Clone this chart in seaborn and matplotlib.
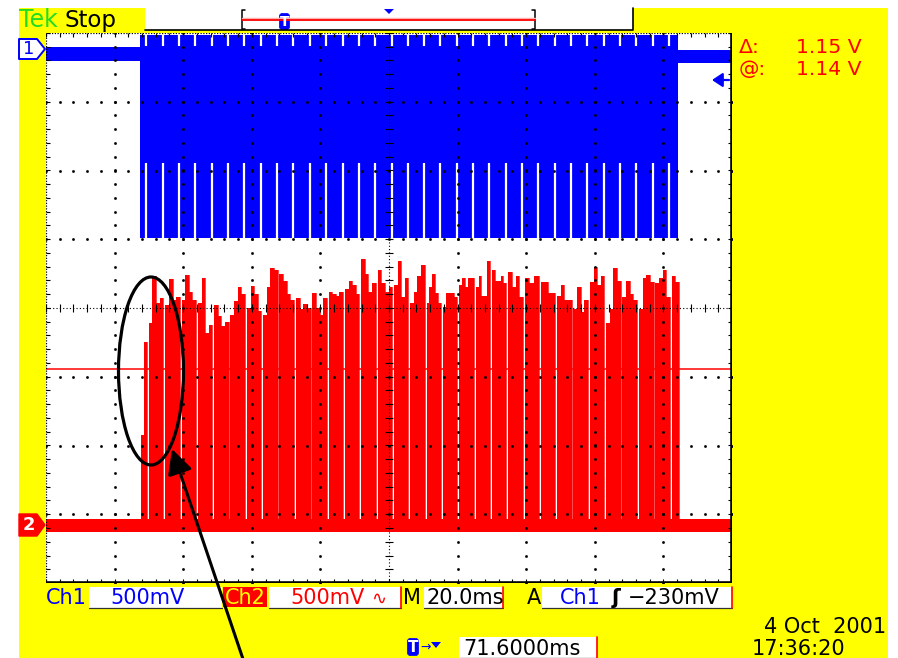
import numpy as np
import pandas as pd
import matplotlib
matplotlib.use("Agg")
import matplotlib.pyplot as plt
import seaborn as sns
from matplotlib.patches import Rectangle, Ellipse, Polygon, FancyBboxPatch

ms_per_div = 20.0            # "M 20.0ms"
volts_per_div = 0.5          # "500mV" both channels
x_range_ms = [0.0, 200.0]
y_range_v = [-2.0, 2.0]

ch1_start_ms = 27.4
ch1_end_ms = 184.3
ch1_idle_pre = [1.80, 1.90]
ch1_idle_post = [1.78, 1.875]
ch1_burst = [0.51, 1.985]
ch1_gap_low_top = 1.055
ch1_notch_bottom = 1.905
ch1_lead_ms = 0.45

ch2_start_ms = 27.7
ch2_end_ms = 184.6
ch2_base = [-1.63, -1.535]
ch2_cursor_v = -0.445
gap_width_ms = 0.55

pulse_gap_ms = [29.7, 34.5, 39.3, 44.0, 48.8, 53.5, 58.3, 63.1, 67.8, 72.6,
                77.4, 82.1, 86.9, 91.6, 96.4, 101.2, 105.9, 110.7, 115.4, 120.2,
                125.0, 129.7, 134.5, 139.3, 144.0, 148.8, 153.5, 158.3, 163.1, 167.8,
                172.6, 177.4, 182.1]

ch2_tops_v = [
    [-0.92, -0.25],
    [-0.11, 0.23, 0.04, 0.07],
    [0.02, 0.21, 0.06, 0.08],
    [0.06, 0.24, 0.12, 0.06],
    [0.04, 0.22, -0.18, -0.12],
    [0.02, -0.06, -0.13, -0.10],
    [-0.05, 0.05, 0.15, 0.10],
    [0.00, 0.16, 0.10, -0.02],
    [-0.05, 0.15, 0.29, 0.28],
    [0.25, 0.20, 0.10, 0.06],
    [0.07, -0.01, 0.03, 0.00],
    [0.11, 0.00, -0.05, 0.07],
    [0.12, 0.10, 0.09, 0.12],
    [0.14, 0.20, 0.17, 0.10],
    [0.36, 0.25, 0.12, 0.18],
    [0.28, 0.18, 0.12, 0.15],
    [0.17, 0.34, 0.08, 0.22],
    [0.04, 0.12, 0.23, 0.31],
    [0.04, 0.15, 0.25, 0.11, 0.04],
    [0.01, 0.11, 0.11, 0.08],
    [0.17, 0.22, 0.15, 0.22, 0.22],
    [0.15, 0.23, 0.09, 0.09, 0.34],
    [0.28, 0.20, 0.20, 0.23, 0.18],
    [0.26, 0.15, 0.23, 0.08],
    [0.22, 0.18, 0.23],
    [0.19, 0.19, 0.11, 0.11],
    [0.09, 0.17, 0.06, 0.06],
    [-0.01, 0.15, -0.03, 0.06],
    [0.19, 0.30, 0.17, 0.23],
    [-0.11, -0.01, 0.29, 0.20],
    [0.08, 0.20, 0.10, 0.06],
    [-0.01, 0.22, 0.24, 0.19],
    [0.18, 0.22, 0.28, 0.08],
    [0.23, 0.19],
]

# ---------------- styling ----------------
W, H = 898, 658
YELLOW = "#FFFF00"
BLUE = "#0000FF"
RED = "#FF0000"
GREEN = "#22DD22"

sns.set_theme(style="white")
plt.rcParams["font.family"] = ["DejaVu Sans"]

fig = plt.figure(figsize=(W / 100, H / 100), dpi=100, facecolor="white")

bg = fig.add_axes([0, 0, 1, 1], zorder=0)
bg.set_xlim(0, W); bg.set_ylim(H, 0); bg.axis("off")
bg.add_patch(Rectangle((19, 8), 869, 650, color=YELLOW, lw=0))

ax = fig.add_axes([46 / W, 1 - 583 / H, 686 / W, 550 / H], zorder=1)
ax.set_xlim(*x_range_ms); ax.set_ylim(*y_range_v)
ax.set_facecolor("white")
ax.set_xticks([]); ax.set_yticks([])
for s in ax.spines.values():
    s.set_visible(False)

# ---- channel 1 (blue) ----
ax.fill_between([x_range_ms[0], ch1_start_ms], ch1_idle_pre[0], ch1_idle_pre[1], color=BLUE, lw=0, zorder=2)
ax.fill_between([ch1_start_ms, ch1_end_ms], ch1_burst[0], ch1_burst[1], color=BLUE, lw=0, zorder=2)
ax.fill_between([ch1_end_ms, x_range_ms[1]], ch1_idle_post[0], ch1_idle_post[1], color=BLUE, lw=0, zorder=2)
ch1_gaps = [g - ch1_lead_ms for g in pulse_gap_ms]
ax.vlines(ch1_gaps, ch1_burst[0] - 0.02, ch1_gap_low_top, color="white", lw=1.6, zorder=3)
ax.vlines(ch1_gaps, ch1_notch_bottom, ch1_burst[1], color="white", lw=1.6, zorder=3)

# ---- channel 2 (red): one continuous step envelope ----
edges = [ch2_start_ms] + pulse_gap_ms + [ch2_end_ms]
ts, vs = [x_range_ms[0]], [ch2_base[1]]
for i, tops in enumerate(ch2_tops_v):
    left = edges[i] + (gap_width_ms / 2 if i > 0 else 0)
    right = edges[i + 1] - (gap_width_ms / 2 if i < len(pulse_gap_ms) else 0)
    w = (right - left) / len(tops)
    for j, t in enumerate(tops):
        ts.append(left + j * w); vs.append(t)
    ts.append(right); vs.append(ch2_base[1])
ts.append(x_range_ms[1]); vs.append(ch2_base[1])
env = pd.DataFrame({"t": ts, "v": vs})
ax.fill_between(env.t.to_numpy(), ch2_base[0], env.v.to_numpy(), step="post",
                color=RED, lw=0, zorder=2)
sns.lineplot(data=env, x="t", y="v", estimator=None, sort=False, drawstyle="steps-post",
             color=RED, lw=0.5, ax=ax, zorder=2, legend=False)
ax.set_xlabel(""); ax.set_ylabel("")
ax.axhline(ch2_cursor_v, color=RED, lw=1.1, zorder=4)

# ---- graticule ----
dot = dict(color="black", marker="s", ms=0.9, ls="none", zorder=5)
minor_y = np.arange(y_range_v[0], y_range_v[1] + 1e-9, volts_per_div / 5)
minor_x = np.arange(x_range_ms[0], x_range_ms[1] + 1e-9, ms_per_div / 5)
cx = (x_range_ms[0] + x_range_ms[1]) / 2
for x in np.arange(ms_per_div, x_range_ms[1], ms_per_div):
    if abs(x - cx) > 1e-6:
        ax.plot(np.full_like(minor_y, x), minor_y, **dot)
for y in np.arange(y_range_v[0] + volts_per_div, y_range_v[1] - 1e-9, volts_per_div):
    if abs(y) > 1e-6:
        ax.plot(minor_x, np.full_like(minor_x, y), **dot)
dx = 1.2   # ms, ~4 px
dy = 0.03  # V, ~4 px
ax.plot([cx, cx], y_range_v, color="black", lw=0.8, ls=(0, (1, 2)), zorder=5)
ax.plot(x_range_ms, [0, 0], color="black", lw=0.8, ls=(0, (1, 2)), zorder=5)
ax.hlines(minor_y, cx - dx, cx + dx, color="black", lw=0.8, zorder=5)
ax.vlines(minor_x, -dy, dy, color="black", lw=0.8, zorder=5)
# frame
ax.plot(x_range_ms, [y_range_v[1]] * 2, color="black", lw=0.9, ls=(0, (1, 1.2)), zorder=6)
ax.plot([x_range_ms[0]] * 2, y_range_v, color="black", lw=0.9, ls=(0, (1, 1.2)), zorder=6)
ax.vlines(minor_x, y_range_v[1] - dy, y_range_v[1], color="black", lw=0.8, zorder=6)
ax.vlines(minor_x, y_range_v[0], y_range_v[0] + dy, color="black", lw=0.8, zorder=6)
ax.hlines(minor_y, x_range_ms[0], x_range_ms[0] + dx, color="black", lw=0.8, zorder=6)
ax.hlines(minor_y, x_range_ms[1] - dx, x_range_ms[1], color="black", lw=0.8, zorder=6)
ax.plot(x_range_ms, [y_range_v[0]] * 2, color="black", lw=2.6, zorder=7, solid_capstyle="butt")
ax.plot([x_range_ms[1]] * 2, y_range_v, color="black", lw=2.6, zorder=7, solid_capstyle="butt")

# ---------------- overlay: scope annotations ----------------
ov = fig.add_axes([0, 0, 1, 1], zorder=3)
ov.set_xlim(0, W); ov.set_ylim(H, 0); ov.axis("off")

def txt(x, y, s, color="black", size=15, ha="left", **kw):
    ov.text(x, y, s, color=color, fontsize=size, ha=ha, va="baseline", **kw)

def box(x0, y0, x1, y1, face="white", red_edge=False):
    ov.add_patch(Rectangle((x0, y0), x1 - x0, y1 - y0, facecolor=face, lw=0))
    ov.plot([x0, x1], [y1, y1], color="#333333", lw=0.9)
    if red_edge:
        ov.plot([x1, x1], [y0, y1], color=RED, lw=1.2)

# top bar
txt(19, 27, "Tek", color=GREEN, size=17)
txt(65, 27, "Stop", size=16.5)
ov.add_patch(Rectangle((145, 8), 488, 22, facecolor="white", lw=0))
ov.plot([145, 633, 633], [30, 30, 8], color="black", lw=1.2)
ov.plot([245, 242, 242, 245], [10, 10, 29, 29], color="black", lw=1.1)
ov.plot([532, 535, 535, 532], [10, 10, 29, 29], color="black", lw=1.1)
ov.plot([242, 535], [18, 18], color="#FFB0B0", lw=1.0)
ov.plot([242, 535], [19.5, 19.5], color=RED, lw=1.3)
ov.add_patch(FancyBboxPatch((280, 14), 9, 15, boxstyle="round,pad=0.6,rounding_size=3",
                            facecolor=BLUE, edgecolor=BLUE, lw=0.5))
ov.text(284.5, 22, "T", color="white", fontsize=10, fontweight="bold", ha="center", va="center")
ov.add_patch(Polygon([(384, 9), (394, 9), (389, 14)], closed=True, facecolor=BLUE, lw=0))

# cursor readouts
txt(739, 53, "Δ:", color=RED, size=14.7)
txt(862, 53, "1.15 V", color=RED, size=14.7, ha="right")
txt(739, 75, "@:", color=RED, size=14.7)
txt(862, 75, "1.14 V", color=RED, size=14.7, ha="right")

# channel markers
ov.add_patch(Polygon([(19, 39), (37, 39), (45, 49), (37, 59), (19, 59)], closed=True,
                     facecolor="white", edgecolor=BLUE, lw=1.4, joinstyle="round"))
ov.text(29, 49.5, "1", color=BLUE, fontsize=13, ha="center", va="center")
ov.add_patch(Polygon([(19, 514), (37, 514), (45, 525), (37, 536), (19, 536)], closed=True,
                     facecolor=RED, edgecolor=RED, lw=1.0, joinstyle="round"))
ov.text(29, 525.5, "2", color="white", fontsize=13, ha="center", va="center", fontweight="bold")
# trigger level arrow
ov.annotate("", xy=(712, 80), xytext=(729, 80),
            arrowprops=dict(arrowstyle="-|>,head_length=0.45,head_width=0.3", color=BLUE,
                            lw=1.6, mutation_scale=14, shrinkA=0, shrinkB=0))

# bottom status line
txt(46, 604, "Ch1", color=BLUE)
box(89, 587, 222, 608)
txt(110, 604, "500mV", color=BLUE)
ov.add_patch(Rectangle((223, 587), 44, 20, facecolor=RED, lw=0))
txt(225, 604, "Ch2", color=YELLOW)
box(269, 587, 401, 608, red_edge=True)
txt(290, 604, "500mV", color=RED)
txt(371, 604, "∿", color=RED, size=13)
txt(403, 604, "M")
box(424, 587, 503, 608, red_edge=True)
txt(426, 604, "20.0ms")
txt(527, 604, "A")
box(542, 587, 732, 608, red_edge=True)
txt(560, 604, "Ch1", color=BLUE)
txt(612, 604, "ʃ", size=15, fontweight="bold")
txt(628, 604, "−230mV")

# trigger position + date
ov.add_patch(FancyBboxPatch((408, 639), 10, 16, boxstyle="round,pad=0.6,rounding_size=3",
                            facecolor=BLUE, edgecolor=BLUE, lw=0.5))
ov.text(413, 647, "T", color="white", fontsize=11, fontweight="bold", ha="center", va="center")
ov.text(420, 647, "→", color=BLUE, fontsize=9, ha="left", va="center")
ov.add_patch(Polygon([(431, 642), (441, 642), (436, 648)], closed=True, facecolor=BLUE, lw=0))
box(459, 637, 597, 658, red_edge=True)
txt(463, 655, "71.6000ms")
txt(886, 633, "4 Oct  2001", ha="right")
txt(752, 655, "17:36:20")

# hand-drawn annotation: ellipse + arrow
ov.add_patch(Ellipse((151, 371), 65, 188, facecolor="none", edgecolor="black", lw=2.3))
ov.annotate("", xy=(172, 449), xytext=(244, 662),
            arrowprops=dict(arrowstyle="-|>,head_length=0.75,head_width=0.38", color="black",
                            lw=2.2, mutation_scale=20, shrinkA=0, shrinkB=0))

fig.savefig("out.png", dpi=100, facecolor="white")
